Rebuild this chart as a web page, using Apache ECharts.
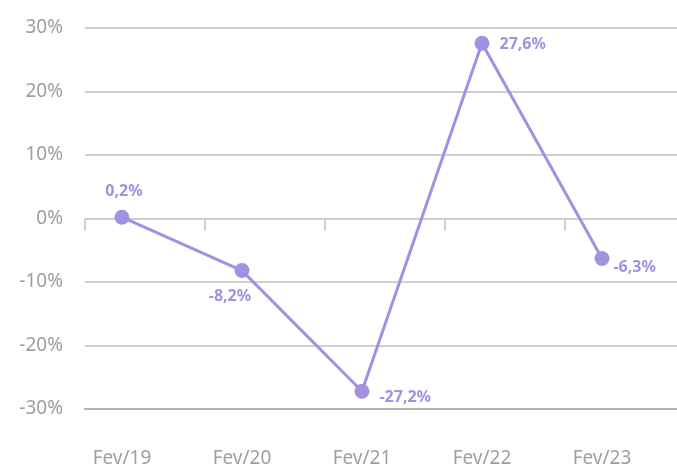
<!DOCTYPE html>
<html>
<head>
<meta charset="utf-8">
<script src="https://cdn.jsdelivr.net/npm/echarts@6/dist/echarts.min.js"></script>
<style>
    html, body {margin: 0; padding: 0; background: #fff;}
    #chart {width: 677px; height: 471px;}
</style>
</head>
<body>
<div id="chart"></div>
<script>
// dados
var categories = ['Fev/19', 'Fev/20', 'Fev/21', 'Fev/22', 'Fev/23'];
var values = [0.2, -8.2, -27.2, 27.6, -6.3];
var yTicks = [-30, -20, -10, 0, 10, 20, 30];

var purple = '#a291e1';
var fontName = 'Noto Sans';

// posicao de cada rotulo (bate com o original)
var labelPos = [
    {position: 'top', distance: 10, offset: [2, 0]},
    {position: 'bottom', distance: 10, offset: [-12, 0]},
    {position: 'right', distance: 10, offset: [0, 6]},
    {position: 'right', distance: 10, offset: [0, 1]},
    {position: 'right', distance: 4, offset: [0, 9]}
];

var seriesData = values.map(function (v, i) {
    return {
        value: [i, v],
        label: labelPos[i]
    };
});

var chartDom = document.getElementById('chart');
var myChart = echarts.init(chartDom);
var option;

option = {
    animation: false,
    grid: {left: 85, right: 0, top: 28, bottom: 62},
    xAxis: [
        {
            // rotulos embaixo + linha de -30%
            type: 'value',
            min: -0.308,
            max: 4.625,
            position: 'bottom',
            axisLine: {show: true, onZero: false, lineStyle: {color: '#b3b3b3', width: 2}},
            axisTick: {show: false},
            splitLine: {show: false},
            axisLabel: {
                customValues: categories.map(function (c, i) { return i; }),
                formatter: function (v) { return categories[Math.round(v)]; },
                color: '#9e9e9e',
                fontFamily: fontName,
                fontSize: 19,
                margin: 40
            }
        },
        {
            // linha do zero com os tracinhos
            type: 'value',
            min: 0,
            max: 4.933,
            interval: 1,
            position: 'bottom',
            axisLine: {show: true, onZero: true, lineStyle: {color: '#cfcfcf', width: 2}},
            axisTick: {
                show: true,
                length: 12,
                customValues: categories.map(function (c, i) { return i; }),
                lineStyle: {color: '#cfcfcf', width: 2}
            },
            axisLabel: {show: false},
            splitLine: {show: false}
        }
    ],
    yAxis: {
        type: 'value',
        min: yTicks[0],
        max: yTicks[yTicks.length - 1],
        interval: 10,
        axisLine: {show: false},
        axisTick: {show: false},
        splitLine: {lineStyle: {color: '#cfcfcf', width: 2}},
        axisLabel: {
            formatter: '{value}%',
            color: '#9e9e9e',
            fontFamily: fontName,
            fontSize: 19,
            margin: 22
        }
    },
    series: [
        {
            type: 'line',
            xAxisIndex: 0,
            data: seriesData,
            symbol: 'circle',
            symbolSize: 15,
            itemStyle: {color: purple},
            lineStyle: {color: purple, width: 3},
            label: {
                show: true,
                color: purple,
                fontFamily: fontName,
                fontWeight: 'bold',
                fontSize: 16,
                formatter: function (p) {
                    return p.value[1].toFixed(1).replace('.', ',') + '%';
                }
            }
        }
    ]
};

option && myChart.setOption(option);
</script>
</body>
</html>
